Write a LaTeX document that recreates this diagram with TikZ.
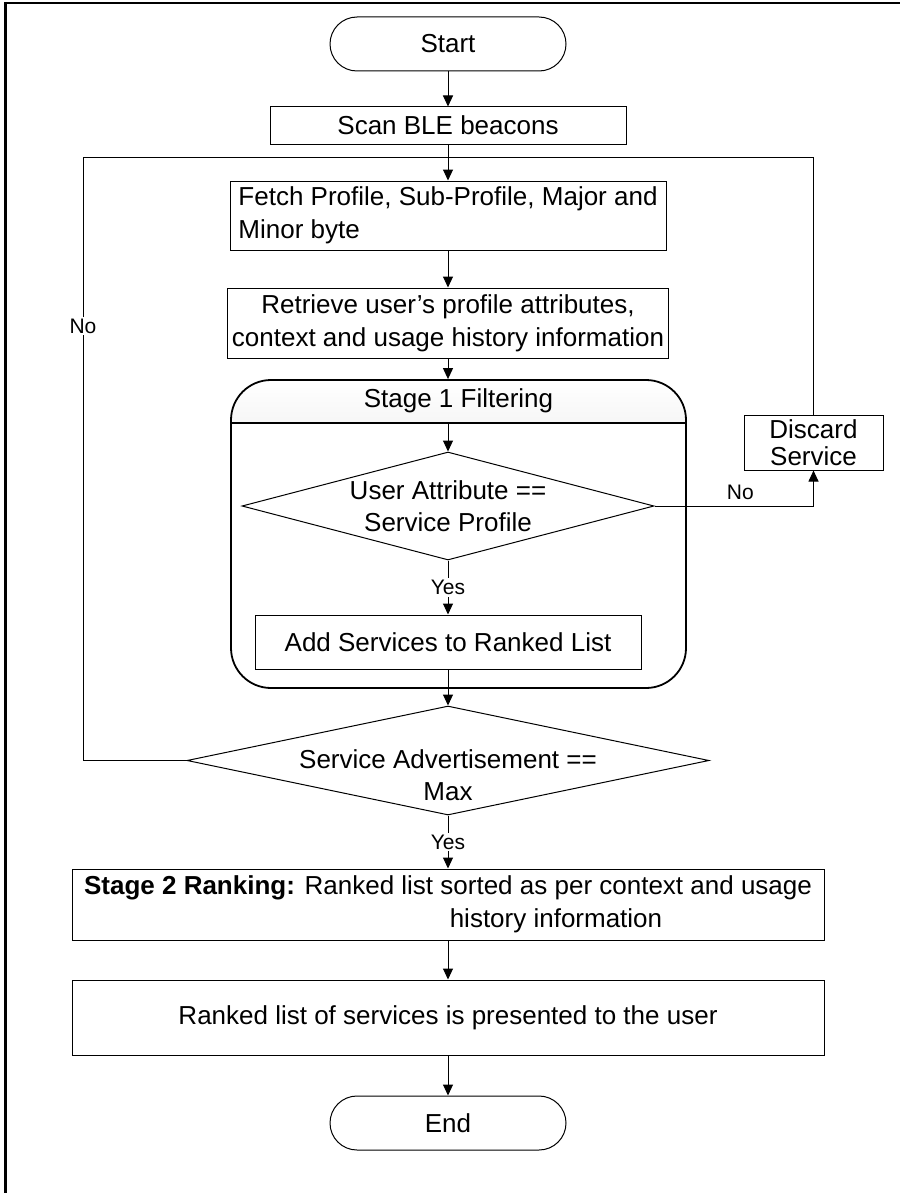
\documentclass[tikz,border=0pt]{standalone}
\usepackage{fontspec}
\setmainfont{Liberation Sans}
\usetikzlibrary{shapes.geometric,arrows.meta}

\tikzset{
  etape/.style={draw,line width=0.5pt,rectangle,inner sep=2pt,font=\fontsize{13}{16.5}\selectfont},
  terminal/.style={draw,line width=0.5pt,rectangle,rounded corners=13.5pt,minimum width=118pt,minimum height=27pt,font=\fontsize{13}{16}\selectfont},
  decision/.style={draw,line width=0.5pt,diamond,inner sep=0pt},
  texte/.style={align=center,font=\fontsize{13}{16}\selectfont},
  flux/.style={line width=0.5pt,-{Triangle[length=5.5pt,width=5pt]}},
  reponse/.style={fill=white,inner sep=1pt,font=\fontsize{10.5}{12}\selectfont},
}

\begin{document}
\begin{tikzpicture}[x=0.5pt,y=-0.5pt]
        \useasboundingbox (0,0) rectangle (900,1193);
        % Cadre (haut et gauche)
        \draw[line width=1pt] (5,3) -- (900,3);
        \draw[line width=1.5pt] (5,2) -- (5,1193);
        % Debut et balayage
        \node[terminal] (start) at (448,44) {Start};
        \node[etape,minimum width=178pt,minimum height=18.5pt] (scan) at (448,125.5) {Scan BLE beacons};
        % Lecture des octets et du profil
        \node[etape,minimum width=218pt,minimum height=34.5pt,align=left] (fetch) at (448,215.5) {Fetch Profile, Sub-Profile, Major and\\Minor byte};
        \node[etape,minimum width=218pt,minimum height=35pt,align=center] (retrieve) at (448,323) {Retrieve user’s profile attributes,\\context and usage history information};
        % Bloc Stage 1 (en-tete degrade)
        \begin{scope}
          \clip (231,380) rectangle (686,423);
          \shade[top color=white,bottom color=gray!50,rounded corners=20pt] (231,380) rectangle (686,688);
        \end{scope}
        \node[draw,line width=0.9pt,rounded corners=20pt,minimum width=227.5pt,minimum height=154pt] (stage1) at (458.5,534) {};
        \coordinate (hdrW) at (231,423);
        \coordinate (hdrE) at (686,423);
        \coordinate (hdr) at (448,423);
        \draw[line width=0.9pt] (hdrW) -- (hdrE);
        \node[texte] (stage1title) at (458.5,401) {Stage 1 Filtering};
        % Test attribut / profil
        \node[decision,minimum width=206pt,minimum height=54pt] (check1) at (448,506) {};
        \node[texte] (check1text) at (448,506) {User Attribute ==\\Service Profile};
        \node[etape,minimum width=193pt,minimum height=27pt] (add) at (448,642) {Add Services to Ranked List};
        % Service rejete
        \node[etape,minimum width=69.5pt,minimum height=27pt,align=center,font=\fontsize{13}{13.5}\selectfont] (discard) at (813.5,443) {Discard\\Service};
        % Test nombre d'annonces
        \node[decision,minimum width=261pt,minimum height=54.5pt] (check2) at (448,760.5) {};
        \node[texte] (check2text) at (448,775) {Service Advertisement ==\\Max};
        % Stage 2 et fin
        \node[etape,minimum width=376pt,minimum height=35.5pt,align=center] (rank) at (448,904.5) {\textbf{Stage 2 Ranking:} Ranked list sorted as per context and usage\\\hspace*{108pt}history information};
        \node[etape,minimum width=376pt,minimum height=37.5pt] (present) at (448,1017.5) {Ranked list of services is presented to the user};
        \node[terminal] (stop) at (448,1123) {End};
        % Boucles de retour
        \coordinate (merge) at (448,157);
        \coordinate (loopL) at (83,157);
        % Fleches
        \draw[flux] (start) -- (scan);
        \draw[flux] (scan) -- (fetch);
        \draw[flux] (fetch) -- (retrieve);
        \draw[flux] (retrieve) -- (retrieve.south |- stage1.north);
        \draw[flux] (hdr) -- (check1.north);
        \draw[flux] (check1.south) -- node[reponse] {Yes} (add.north);
        \draw[flux] (check1.east) -| node[pos=0.27,above,inner sep=3pt,font=\fontsize{10.5}{12}\selectfont] {No} (discard.south);
        \draw[line width=0.5pt] (discard.north) |- (merge);
        \draw[flux] (add.south) -- (check2.north);
        \draw[line width=0.5pt] (check2.west) -| node[reponse,pos=0.86] {No} (loopL) -- (merge);
        \draw[flux] (check2.south) -- node[reponse] {Yes} (rank.north);
        \draw[flux] (rank) -- (present);
        \draw[flux] (present) -- (stop);
\end{tikzpicture}
\end{document}
